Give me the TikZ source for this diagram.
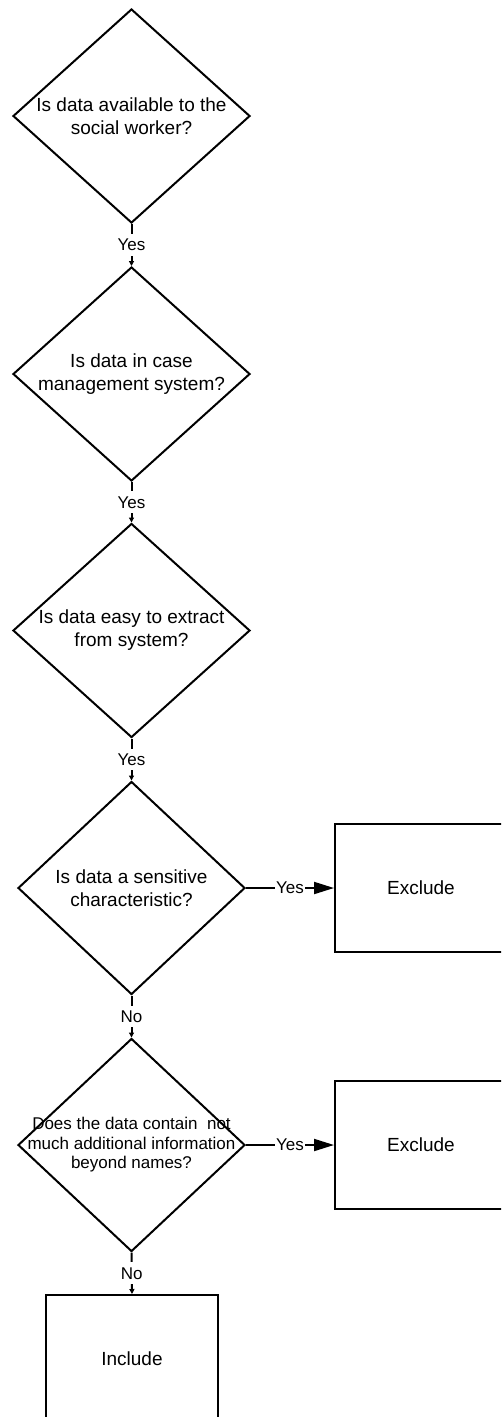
\documentclass[tikz,border=0pt]{standalone}
\usepackage{fontspec}
\setmainfont{Liberation Sans}
\usetikzlibrary{shapes.geometric, arrows.meta}

\begin{document}
\begin{tikzpicture}[
		x=1pt, y=-1pt,
		q/.style    = {diamond, draw, line width=2pt, inner xsep=-25pt, inner ysep=0pt,
		               minimum width=237pt, minimum height=214pt, align=center,
		               font=\fontsize{19}{23}\selectfont},
		qs/.style   = {q, minimum width=227pt, minimum height=213pt},
		box/.style  = {rectangle, draw, line width=2pt, minimum width=172pt,
		               minimum height=128pt, font=\fontsize{19}{23}\selectfont},
		lbl/.style  = {fill=white, inner xsep=1pt, inner ysep=5pt,
		               font=\fontsize{17}{20}\selectfont},
		down/.style = {line width=2pt, -{Triangle[length=5pt, width=5pt]}},
		side/.style = {line width=2pt, -{Triangle[length=20pt, width=12pt]}}
		]
		\useasboundingbox (0,0) rectangle (501,1417);
		\clip (0,0) rectangle (501,1417);
		
		% Questions
		\node[q] (avail) at (131.5, 116) {Is data available to the\\social worker?};
		\node[q] (cms) at (131.5, 374) {Is data in case\\management system?};
		\node[q] (easy) at (131.5, 630.5) {Is data easy to extract\\from system?};
		\node[qs] (sens) at (131.5, 888) {Is data a sensitive\\characteristic?};
		\node[qs, font=\fontsize{17}{19.5}\selectfont] (names) at (131.5, 1145)
			{Does the data contain\ \ not\\much additional information\\beyond names?};
		
		% Outcomes
		\node[box] (excl1) at (421, 888) {Exclude};
		\node[box] (excl2) at (421, 1145) {Exclude};
		\node[box] (incl) at (132, 1359) {Include};
		
		% Connectors
		\draw[down] (avail.south) -- node[lbl] (y1) {Yes} (cms.north);
		\draw[down] (cms.south) -- node[lbl] (y2) {Yes} (easy.north);
		\draw[down] (easy.south) -- node[lbl] (y3) {Yes} (sens.north);
		\draw[down] (sens.south) -- node[lbl] (n1) {No} (names.north);
		\draw[down] (names.south) -- node[lbl] (n2) {No} (incl.north);
		\draw[side] (sens.east) -- node[lbl] (y4) {Yes} (excl1.west);
		\draw[side] (names.east) -- node[lbl] (y5) {Yes} (excl2.west);
	\end{tikzpicture}
\end{document}
